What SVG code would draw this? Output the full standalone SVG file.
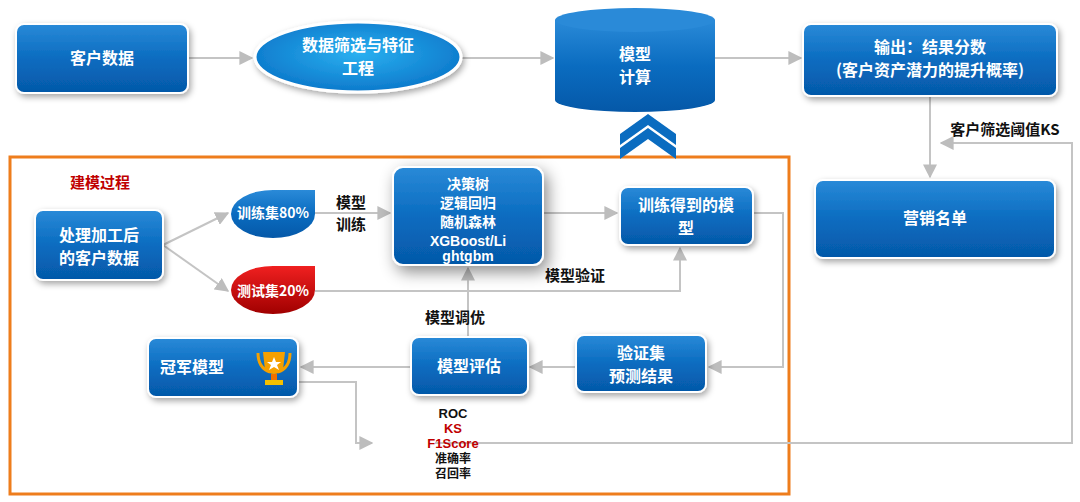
<svg xmlns="http://www.w3.org/2000/svg" width="1080" height="502" viewBox="0 0 1080 502">
<defs>
<linearGradient id="bg" x1="0" y1="0" x2="0" y2="1"><stop offset="0" stop-color="#2a8ad8"/><stop offset="0.5" stop-color="#0a6cc0"/><stop offset="1" stop-color="#0558a8"/></linearGradient>
<linearGradient id="rg" x1="0" y1="0" x2="0" y2="1"><stop offset="0" stop-color="#f02020"/><stop offset="1" stop-color="#a00000"/></linearGradient>
<radialGradient id="eg" cx="0.5" cy="0.45" r="0.6"><stop offset="0" stop-color="#2ab0f0"/><stop offset="1" stop-color="#0a74c8"/></radialGradient>
<filter id="sh" x="-20%" y="-20%" width="140%" height="150%"><feDropShadow dx="2" dy="3" stdDeviation="3" flood-color="#000" flood-opacity="0.35"/></filter>
<filter id="sh2" x="-30%" y="-30%" width="160%" height="170%"><feDropShadow dx="4" dy="6" stdDeviation="8" flood-color="#000" flood-opacity="0.45"/></filter>
<marker id="ar" viewBox="0 0 10 10" refX="9" refY="5" markerWidth="7" markerHeight="7" orient="auto"><path d="M0,0 L10,5 L0,10 z" fill="#bdbdbd"/></marker>
</defs>
<style>
.box{fill:url(#bg);stroke:#ffffff;stroke-width:2;filter:url(#sh)}
.t{font-family:"Noto Sans CJK SC","Liberation Sans",sans-serif;font-weight:bold;font-size:16px;fill:#fff;text-anchor:middle}
.a{font-family:"Noto Sans CJK SC","Liberation Sans",sans-serif;font-weight:bold;font-size:14px;fill:#fff;text-anchor:middle}
.l{font-family:"Liberation Sans",sans-serif;font-weight:bold;font-size:14px;fill:#fff;text-anchor:middle}
.k{font-family:"Noto Sans CJK SC","Liberation Sans",sans-serif;font-weight:bold;font-size:15px;fill:#111;text-anchor:middle}
.m{font-family:"Noto Sans CJK SC","Liberation Sans",sans-serif;font-weight:bold;font-size:12px;fill:#111;text-anchor:middle}
.ml{font-family:"Liberation Sans",sans-serif;font-weight:bold;font-size:13px;fill:#111;text-anchor:middle}
.red{fill:#c00000}
.ca{fill:none;stroke:#c4c4c4;stroke-width:2;marker-end:url(#ar)}
</style>
<rect x="10" y="157" width="779" height="337" fill="none" stroke="#ee7d1c" stroke-width="3"/>
<g id="connectors">
<line class="ca" x1="188" y1="58" x2="252" y2="58"/>
<line class="ca" x1="461" y1="58" x2="553" y2="58"/>
<line class="ca" x1="715" y1="58" x2="801" y2="58"/>
<line class="ca" x1="930" y1="96" x2="930" y2="177"/>
<line class="ca" x1="163" y1="245" x2="228" y2="213"/>
<line class="ca" x1="163" y1="245" x2="228" y2="291"/>
<line class="ca" x1="315" y1="213" x2="390" y2="213"/>
<line class="ca" x1="543" y1="213" x2="617" y2="213"/>
<polyline class="ca" points="315,291 680,291 680,248"/>
<polyline class="ca" points="753,213 783,213 783,367 709,367"/>
<line class="ca" x1="576" y1="367" x2="530" y2="367"/>
<line class="ca" x1="411" y1="367" x2="301" y2="367"/>
<line class="ca" x1="468" y1="337" x2="468" y2="268"/>
<polyline class="ca" points="298,382 356,382 356,443 372,443"/>
<polyline class="ca" points="435,443 1072,443 1072,143 941,143"/>
</g>
<g id="n1"><rect class="box" x="16" y="24" width="172" height="69" rx="8"/><text class="t" x="102" y="64">客户数据</text></g>
<g id="n2"><ellipse cx="358" cy="57" rx="103" ry="35" fill="url(#eg)" stroke="#fff" stroke-width="3" filter="url(#sh)"/><text class="t" x="358" y="51">数据筛选与特征</text><text class="t" x="358" y="74">工程</text></g>
<g id="n3"><path d="M555,20 L555,100 A80,12 0 0 0 715,100 L715,20 Z" fill="url(#bg)"/><ellipse cx="635" cy="20" rx="80" ry="12" fill="#2a8ad8"/><text class="t" x="635" y="60">模型</text><text class="t" x="635" y="83">计算</text></g>
<g id="chev"><path d="M620,134 L648,114 L676,134 L676,145 L648,125 L620,145 Z" fill="#0a6cc0"/><path d="M620,148 L648,128 L676,148 L676,159 L648,139 L620,159 Z" fill="#0a6cc0"/></g>
<g id="n4"><rect class="box" x="803" y="24" width="254" height="72" rx="8"/><text class="t" x="930" y="53">输出：结果分数</text><text class="t" x="930" y="76">(客户资产潜力的提升概率)</text></g>
<text class="k" x="1005" y="135">客户筛选阈值KS</text>
<g id="n5"><rect class="box" x="815" y="180" width="240" height="78" rx="8"/><text class="t" x="935" y="224">营销名单</text></g>
<text x="100" y="188" font-family="Noto Sans CJK SC,sans-serif" font-weight="bold" font-size="15" fill="#c00000" text-anchor="middle">建模过程</text>
<g id="n6"><rect class="box" x="35" y="210" width="128" height="70" rx="8" stroke-width="4"/><text class="t" x="99" y="241">处理加工后</text><text class="t" x="99" y="264">的客户数据</text></g>
<g id="n7"><path d="M315,190 L315,214 A42,24 0 1 1 273,190 Z" fill="url(#bg)"/><text class="a" x="273" y="218">训练集80%</text></g>
<g id="n8"><path d="M315,266 L315,290 A42,24 0 1 1 273,266 Z" fill="url(#rg)"/><text class="a" x="273" y="296">测试集20%</text></g>
<text class="k" x="351" y="208">模型</text><text class="k" x="351" y="230">训练</text>
<g id="n9"><rect x="393" y="167" width="150" height="98" rx="10" fill="url(#bg)" stroke="#fff" stroke-width="2" filter="url(#sh2)"/><text class="a" x="468" y="189">决策树</text><text class="a" x="468" y="208">逻辑回归</text><text class="a" x="468" y="227">随机森林</text><text class="l" x="468" y="246">XGBoost/Li</text><text class="l" x="468" y="261">ghtgbm</text></g>
<g id="n10"><rect class="box" x="620" y="187" width="133" height="58" rx="8"/><text class="t" x="686" y="211">训练得到的模</text><text class="t" x="686" y="234">型</text></g>
<text class="k" x="575" y="281">模型验证</text>
<text class="k" x="455" y="323">模型调优</text>
<g id="n11"><rect class="box" x="576" y="335" width="130" height="57" rx="8"/><text class="t" x="641" y="359">验证集</text><text class="t" x="641" y="382">预测结果</text></g>
<g id="n12"><rect class="box" x="411" y="337" width="117" height="58" rx="8"/><text class="t" x="469" y="372">模型评估</text></g>
<g id="n13"><rect class="box" x="148" y="338" width="150" height="59" rx="8"/><text class="t" x="192" y="373">冠军模型</text>
<path d="M258,353 Q258,368 270,372 M290,353 Q290,368 278,372" fill="none" stroke="#f5a000" stroke-width="3"/><path d="M263,352 L285,352 L283,370 Q274,378 265,370 Z" fill="#f5a000"/><rect x="271" y="374" width="6" height="6" fill="#f07000"/><rect x="265" y="380" width="18" height="5" fill="#f5c000"/><path d="M274,357 l2,5 5,0 -4,3 2,5 -5,-3 -5,3 2,-5 -4,-3 5,0z" fill="#fff"/></g>
<g id="metrics"><text class="ml" x="453" y="418">ROC</text><text class="ml red" x="453" y="433">KS</text><text class="ml red" x="453" y="448">F1Score</text><text class="m" x="453" y="463">准确率</text><text class="m" x="453" y="478">召回率</text></g>
</svg>
